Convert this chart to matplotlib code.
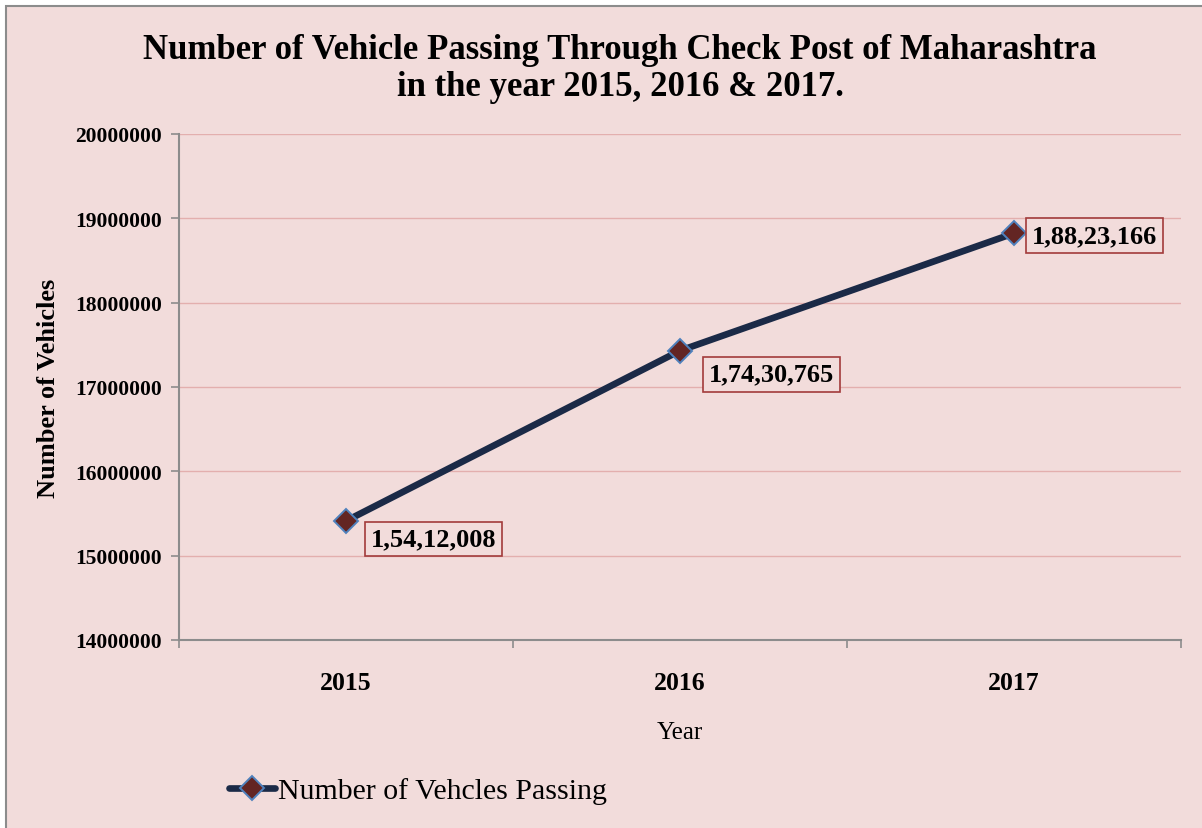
import matplotlib
matplotlib.use("Agg")
import matplotlib.pyplot as plt
from matplotlib.patches import Rectangle
from matplotlib.ticker import FixedLocator, NullFormatter

years = ["2015", "2016", "2017"]
vehicles = [15412008, 17430765, 18823166]
labels = ["1,54,12,008", "1,74,30,765", "1,88,23,166"]
label_offsets = [(63, -13), (66, -17), (58, -1.5)]
yticks = [14000000, 15000000, 16000000, 17000000, 18000000, 19000000, 20000000]

W, H = 1202, 829
bg = "#F2DCDB"
serif = ["Liberation Serif", "DejaVu Serif"]
plt.rcParams["font.family"] = serif

fig = plt.figure(figsize=(W / 100, H / 100), dpi=100)
fig.patch.set_facecolor("white")
fig.patches.append(Rectangle((6 / W, -0.1), 1.2, 1 - 7 / H + 0.1, transform=fig.transFigure,
                             facecolor=bg, edgecolor="#8C8C8C", linewidth=1.5, zorder=-5))

ax = fig.add_axes([179 / W, 1 - 641 / H, (1181 - 179) / W, (641 - 135) / H])
ax.set_zorder(2)
ax.set_facecolor(bg)
x = list(range(len(years)))
ax.plot(x, vehicles, color="#1B2A47", linewidth=4.8, marker="D", markersize=12,
        markerfacecolor="#632523", markeredgecolor="#4F81BD", markeredgewidth=1.4,
        solid_capstyle="round", label="Number of Vehcles Passing", zorder=3)

for xi, v, lab, off in zip(x, vehicles, labels, label_offsets):
    ax.annotate(lab, (xi, v), xytext=off, textcoords="offset points", ha="center", va="center",
                fontsize=19, fontweight="bold", family=serif,
                bbox=dict(boxstyle="square,pad=0.22", facecolor=bg, edgecolor="#A23B3B", linewidth=1.2),
                zorder=4)

ax.set_xlim(-0.5, 2.5)
ax.set_ylim(14000000, 20000000)
ax.set_yticks(yticks)
ax.set_yticklabels([str(t) for t in yticks], fontsize=15.5, fontweight="bold")
ax.set_xticks(x)
ax.set_xticklabels(years, fontsize=18.5, fontweight="bold")
ax.xaxis.set_minor_locator(FixedLocator([-0.5, 0.5, 1.5, 2.5]))
ax.xaxis.set_minor_formatter(NullFormatter())
ax.tick_params(axis="x", which="major", length=0, pad=22)
ax.tick_params(axis="x", which="minor", length=6, color="#8C8C8C", width=1.2, direction="out")
ax.tick_params(axis="y", length=6, color="#8C8C8C", width=1.2, pad=6)
ax.grid(axis="y", color="#E3AFAE", linewidth=1)
ax.set_axisbelow(True)
for s in ["top", "right"]:
    ax.spines[s].set_visible(False)
for s in ["left", "bottom"]:
    ax.spines[s].set_color("#8C8C8C")
    ax.spines[s].set_linewidth(1.5)

ax.set_xlabel("Year", fontsize=18)
ax.xaxis.set_label_coords(0.5, -0.16)
ax.set_ylabel("Number of Vehicles", fontsize=19, fontweight="bold")
ax.yaxis.set_label_coords(-0.119, 0.5)

fig.text(620 / W, 1 - 69 / H,
         "Number of Vehicle Passing Through Check Post of Maharashtra\nin the year 2015, 2016 & 2017.",
         ha="center", va="center", fontsize=25, fontweight="bold", linespacing=1.15)

leg = fig.legend(loc="center left", bbox_to_anchor=(229 / W, 1 - 792 / H), frameon=False,
                 prop=dict(family=serif, size=21.5), handlelength=1.55, handletextpad=0.1,
                 borderaxespad=0, borderpad=0)

fig.savefig("out.png", dpi=100, facecolor=fig.get_facecolor())
